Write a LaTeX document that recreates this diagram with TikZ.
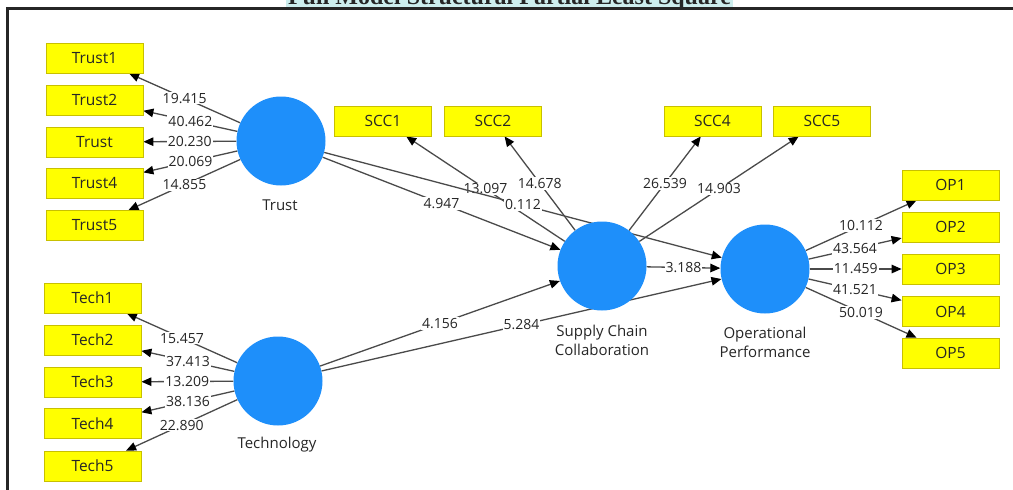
\documentclass[tikz,border=0pt]{standalone}
\usepackage{fontspec}
\setmainfont{Open Sans}
\newfontfamily\titlefont{Liberation Serif}
\usetikzlibrary{arrows.meta}
\pgfdeclarelayer{bg}
\pgfsetlayers{bg,main}
\definecolor{boxfill}{HTML}{FFFF00}
\definecolor{boxedge}{HTML}{C8C000}
\definecolor{latblue}{HTML}{1E8FFA}
\definecolor{linegray}{HTML}{4A4A4A}
\definecolor{txt}{HTML}{262626}
\definecolor{titlebg}{HTML}{CDEEEE}
\begin{document}
\begin{tikzpicture}[x=1pt,y=-1pt,
  ind/.style={draw=boxedge, line width=0.8pt, fill=boxfill, minimum width=97pt, minimum height=30pt, inner sep=0pt, font=\fontsize{15.5}{17}\selectfont, text=txt},
  lat/.style={circle, fill=latblue, minimum size=89pt, inner sep=0pt},
  latlabel/.style={font=\fontsize{15}{19}\selectfont, text=txt, align=center},
  con/.style={draw=linegray, line width=1.3pt, -{Triangle[length=10pt,width=8.5pt,color=black]}},
  num/.style={fill=white, inner sep=1pt, font=\fontsize{14}{16}\selectfont, text=txt}
]
\useasboundingbox (0,0) rectangle (1013,490);
\clip (0,0) rectangle (1013,490);
% title (cut off at the top)
\node[fill=titlebg, inner xsep=2pt, inner ysep=1pt, anchor=base, text=black!85, font=\titlefont\bfseries\fontsize{24}{26}\selectfont] (title) at (509.5,4) {Full Model Structural Partial Least Square};
% frame
\draw[line width=3pt, black!85] (7.5,492) -- (7.5,8.5) -- (1015,8.5);
% latent variables
\node[lat] (T) at (281,141) {};
\node[lat] (Te) at (278,381) {};
\node[lat] (S) at (602,266) {};
\node[lat] (O) at (765,269) {};
\node[latlabel] (Tl) at (280,205) {Trust};
\node[latlabel] (Tel) at (277,445) {Technology};
\node[latlabel] (Sl) at (602,340.5) {Supply Chain\\Collaboration};
\node[latlabel] (Ol) at (765,342.5) {Operational\\Performance};
% indicators
\node[ind] (T1) at (94.5,58) {Trust1};
\node[ind] (T2) at (94.5,100) {Trust2};
\node[ind] (T3) at (94.5,142) {Trust};
\node[ind] (T4) at (94.5,183.5) {Trust4};
\node[ind] (T5) at (94.5,225.5) {Trust5};
\node[ind] (E1) at (92.5,298) {Tech1};
\node[ind] (E2) at (92.5,340) {Tech2};
\node[ind] (E3) at (92.5,382) {Tech3};
\node[ind] (E4) at (92.5,423.5) {Tech4};
\node[ind] (E5) at (92.5,466) {Tech5};
\node[ind] (S1) at (383,121) {SCC1};
\node[ind] (S2) at (493,121) {SCC2};
\node[ind] (S4) at (712.5,121) {SCC4};
\node[ind] (S5) at (822,121) {SCC5};
\node[ind] (O1) at (950.5,185) {OP1};
\node[ind] (O2) at (950.5,227) {OP2};
\node[ind] (O3) at (950.5,269) {OP3};
\node[ind] (O4) at (950.5,311.5) {OP4};
\node[ind] (O5) at (950.5,353) {OP5};
\begin{pgfonlayer}{bg}
\draw[con] (T) -- node[num] {19.415} (T1);
\draw[con] (T) -- node[num] {40.462} (T2);
\draw[con] (T) -- node[num] {20.230} (T3);
\draw[con] (T) -- node[num] {20.069} (T4);
\draw[con] (T) -- node[num] {14.855} (T5);
\draw[con] (Te) -- node[num] {15.457} (E1);
\draw[con] (Te) -- node[num] {37.413} (E2);
\draw[con] (Te) -- node[num] {13.209} (E3);
\draw[con] (Te) -- node[num] {38.136} (E4);
\draw[con] (Te) -- node[num] {22.890} (E5);
\draw[con] (S) -- node[num] {13.097} (S1);
\draw[con] (S) -- node[num] {14.678} (S2);
\draw[con] (S) -- node[num] {26.539} (S4);
\draw[con] (S) -- node[num] {14.903} (S5);
\draw[con] (O) -- node[num] {10.112} (O1);
\draw[con] (O) -- node[num] {43.564} (O2);
\draw[con] (O) -- node[num] {11.459} (O3);
\draw[con] (O) -- node[num] {41.521} (O4);
\draw[con] (O) -- node[num] {50.019} (O5);
\draw[con] (T) -- node[num] {4.947} (S);
\draw[con] (T) -- node[num] {0.112} (O);
\draw[con] (Te) -- node[num] {4.156} (S);
\draw[con] (Te) -- node[num] {5.284} (O);
\draw[con] (S) -- node[num] {3.188} (O);
\end{pgfonlayer}
\end{tikzpicture}
\end{document}
